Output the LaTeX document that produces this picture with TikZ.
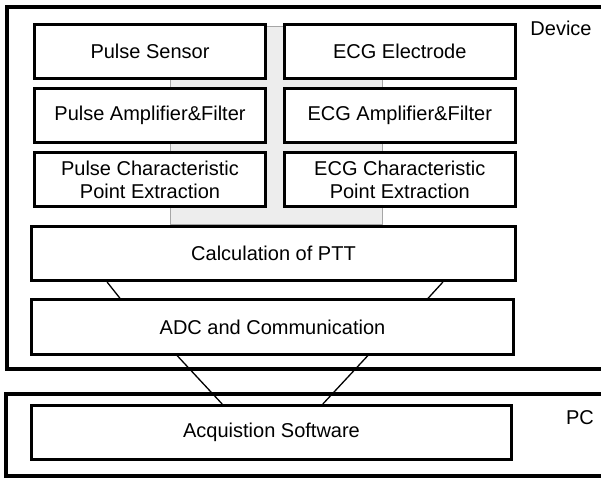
\documentclass[tikz,border=0pt]{standalone}
\usepackage{fontspec}
\setmainfont{Liberation Sans}
\usetikzlibrary{positioning,backgrounds}
\tikzstyle{block} = [rectangle, draw, line width=2.8pt, fill=white, minimum height=54.3pt, align=center, font=\fontsize{20}{23}\selectfont]
\tikzstyle{halfblock} = [block, minimum width=231pt]
\tikzstyle{link} = [line width=1.3pt]
\tikzstyle{outerframe} = [line width=3.2pt]
\tikzstyle{band} = [fill=gray!14, draw=gray!70, line width=1pt]

\begin{document}
\begin{tikzpicture}[x=1pt,y=-1pt,node distance=7pt,font=\fontsize{20}{23}\selectfont]
  \useasboundingbox (0,0) rectangle (601,479);
  % device and pc frames, open to the right
  \draw[outerframe] (612,7) -- (7,7) -- (7,369) -- (612,369);
  \draw[outerframe] (612,394) -- (6,394) -- (6,476) -- (612,476);

  \node[halfblock] (pulseSensor) at (150,51.5) {Pulse Sensor};
  \node[halfblock] (pulseAmp) [below=of pulseSensor] {Pulse Amplifier\&Filter};
  \node[halfblock] (pulseChar) [below=of pulseAmp] {Pulse Characteristic\\Point Extraction};
  \node[halfblock] (ecgElectrode) [right=16pt of pulseSensor] {ECG Electrode};
  \node[halfblock] (ecgAmp) [below=of ecgElectrode] {ECG Amplifier\&Filter};
  \node[halfblock] (ecgChar) [below=of ecgAmp] {ECG Characteristic\\Point Extraction};
  \node[block, minimum width=484pt] (calc) at (273.5,253.5) {Calculation of PTT};
  \node[block, minimum width=482pt] (adc) at (272.5,327) {ADC and Communication};
  \node[block, minimum width=480pt] (acq) at (271.5,432.5) {Acquistion Software};

  \node (deviceLabel) at (561,28) {Device};
  \node (pcLabel) at (580,418) {PC};

  % light bus behind the two columns
  \coordinate (bandEnd) at ([xshift=-17pt]ecgChar.south);
  \begin{scope}[on background layer]
    \path[band] ([xshift=20pt,yshift=-4pt]pulseSensor.north) rectangle (bandEnd |- calc.north);
  \end{scope}

  \draw[link] ([xshift=77pt]calc.south west) -- ([xshift=90pt]adc.north west);
  \draw[link] ([xshift=-74pt]calc.south east) -- ([xshift=-87pt]adc.north east);
  \draw[link] ([xshift=147pt]adc.south west) -- ([xshift=192pt]acq.north west);
  \draw[link] ([xshift=-147pt]adc.south east) -- ([xshift=-190pt]acq.north east);
\end{tikzpicture}
\end{document}
